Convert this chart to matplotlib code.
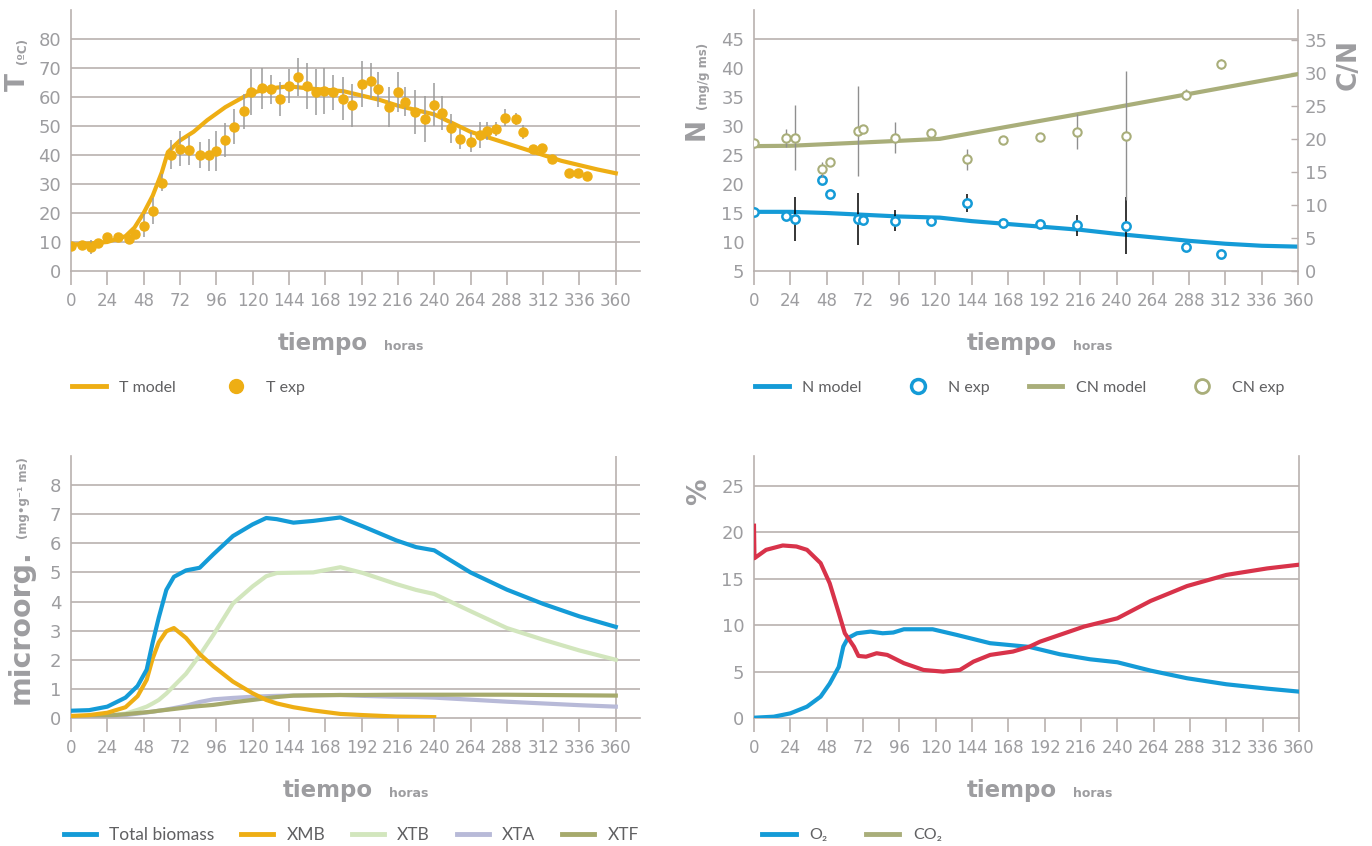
import matplotlib.pyplot as plt
from matplotlib.lines import Line2D

plt.rcParams['font.family'] = ['DejaVu Sans']

# --- temperatura ---
t_model = [0, 12, 24, 36, 42, 48, 54, 60, 64, 72, 81, 90, 102, 114, 120, 132, 144, 156, 168,
           180, 192, 204, 216, 228, 240, 252, 264, 276, 288, 300, 312, 324, 336, 348, 360]
T_model = [9, 9.5, 10, 12, 15, 20, 26, 34, 41, 45, 48, 52, 56.5, 60, 61.5, 63, 63.7, 63, 62.5,
           62, 60.5, 59, 57, 55.5, 54, 51, 48, 46, 44, 42, 40, 38, 36.5, 35, 33.7]

t_exp = [0, 7, 13, 18, 24, 31, 38, 42, 48, 54, 60, 66, 72, 78, 85, 91, 96, 102, 108, 114,
         119, 126, 132, 138, 144, 150, 156, 162, 167, 173, 180, 186, 192, 198, 203, 210, 216,
         221, 227, 234, 240, 245, 251, 257, 264, 270, 275, 281, 287, 294, 299, 305, 311, 318,
         329, 335, 341]
T_exp = [8.6, 9.0, 8.2, 9.5, 11.6, 11.6, 11.1, 12.6, 15.6, 20.6, 30.5, 40.1, 42.2, 41.7, 39.9,
         39.9, 41.4, 45.2, 49.7, 55.1, 61.7, 63.0, 62.6, 59.3, 63.8, 66.8, 63.8, 61.8, 62.1,
         61.6, 59.4, 57.1, 64.5, 65.6, 62.6, 56.6, 61.7, 58.4, 54.9, 52.4, 57.4, 54.5, 49.3,
         45.4, 44.4, 46.9, 48.3, 49.0, 52.9, 52.4, 48.0, 42.1, 42.3, 38.6, 33.8, 33.8, 32.9]
T_err = [0, 0, 2.5, 0.5, 1.0, 0.5, 0.5, 1.0, 4, 4.5, 3, 5, 6, 5, 4.5, 5.5, 7, 6, 6, 6,
         8, 7, 5, 6, 6, 6.5, 8, 8, 8, 6, 7.5, 7.5, 8, 6, 6, 7, 7, 5, 7.5, 8,
         7.5, 6, 5, 3.5, 3.5, 4.5, 3, 2.5, 3, 2, 2.5, 1.5, 1, 0.5, 1.5, 0, 0]

# --- nitrógeno y C/N ---
t_N_model = [0, 24, 48, 72, 96, 123, 144, 168, 192, 216, 240, 264, 288, 312, 336, 360]
N_model = [15.2, 15.2, 15.0, 14.7, 14.4, 14.2, 13.6, 13.1, 12.6, 12.1, 11.4, 10.8, 10.2, 9.7, 9.35, 9.2]
t_CN_model = [0, 24, 48, 72, 96, 123, 168, 216, 264, 312, 360]
CN_model = [18.9, 18.95, 19.2, 19.45, 19.7, 20.0, 21.85, 23.8, 25.8, 27.8, 29.8]

t_N_exp = [0, 21, 27, 45, 50, 69, 72, 93, 117, 141, 165, 189, 214, 246, 286, 309]
N_exp = [15.2, 14.4, 14.0, 20.7, 18.3, 14.0, 13.8, 13.7, 13.6, 16.7, 13.2, 13.05, 12.9, 12.8, 9.1, 7.9]
N_err = [0, 0.5, 3.8, 0.9, 0.4, 4.5, 0, 1.8, 0, 1.5, 0, 0, 1.8, 4.9, 0, 0]
CN_exp = [19.4, 20.1, 20.2, 15.4, 16.5, 21.2, 21.5, 20.2, 20.9, 16.9, 19.9, 20.3, 21.1, 20.5, 26.7, 31.3]
CN_err = [0, 1.4, 4.9, 1.1, 0, 6.8, 0.5, 2.4, 0.5, 1.6, 0, 0, 2.6, 9.8, 0.8, 0.8]

# --- microorganismos ---
t_bio = [0, 12, 24, 36, 44, 50, 54, 58, 63, 68, 76, 85, 94, 107, 120, 129, 136, 147, 160,
         178, 193, 215, 228, 240, 264, 288, 312, 336, 360]
total_bio = [0.25, 0.27, 0.39, 0.7, 1.1, 1.66, 2.6, 3.45, 4.4, 4.85, 5.07, 5.16, 5.62, 6.25,
             6.65, 6.87, 6.83, 6.71, 6.77, 6.89, 6.58, 6.1, 5.87, 5.76, 5.0, 4.41, 3.92, 3.49, 3.13]
xmb = [0.07, 0.1, 0.18, 0.37, 0.75, 1.31, 2.05, 2.6, 2.98, 3.09, 2.75, 2.2, 1.78, 1.25,
       0.85, 0.62, 0.5, 0.37, 0.26, 0.14, 0.1, 0.05, 0.04, 0.03, None, None, None, None, None]
xtb = [0.05, 0.06, 0.08, 0.15, 0.28, 0.39, 0.5, 0.62, 0.84, 1.1, 1.52, 2.15, 2.85, 3.93,
       4.52, 4.87, 4.98, 4.99, 5.0, 5.18, 4.98, 4.6, 4.4, 4.26, 3.67, 3.09, 2.69, 2.32, 2.0]
xta = [0.02, 0.03, 0.06, 0.1, 0.15, 0.19, 0.22, 0.25, 0.29, 0.34, 0.42, 0.55, 0.64, 0.69,
       0.73, 0.75, 0.76, 0.77, 0.78, 0.79, 0.76, 0.73, 0.72, 0.7, 0.63, 0.56, 0.5, 0.44, 0.39]
xtf = [0.02, 0.04, 0.08, 0.13, 0.17, 0.2, 0.22, 0.25, 0.28, 0.31, 0.36, 0.41, 0.45, 0.54,
       0.62, 0.68, 0.72, 0.77, 0.78, 0.79, 0.79, 0.8, 0.8, 0.8, 0.8, 0.8, 0.79, 0.78, 0.77]

# --- gases ---
t_o2 = [0, 13, 24, 35, 44, 50, 56, 59, 62, 68, 77, 85, 92, 99, 118, 134, 156, 182, 202, 222,
        240, 262, 286, 312, 339, 360]
o2 = [0.03, 0.14, 0.5, 1.22, 2.3, 3.7, 5.5, 7.7, 8.6, 9.12, 9.3, 9.12, 9.2, 9.55, 9.55, 8.94,
      8.05, 7.65, 6.86, 6.32, 6.0, 5.1, 4.28, 3.63, 3.16, 2.84]
t_co2 = [0, 0.3, 8, 19, 28, 35, 44, 50, 56, 60, 66, 69, 74, 81, 88, 99, 112, 125, 136, 145,
         156, 171, 182, 189, 218, 240, 262, 286, 312, 339, 360]
co2 = [20.7, 17.2, 18.1, 18.57, 18.46, 18.1, 16.67, 14.5, 11.3, 9.12, 7.68, 6.68, 6.6, 6.97,
       6.79, 5.9, 5.17, 4.99, 5.17, 6.07, 6.79, 7.15, 7.68, 8.22, 9.84, 10.73, 12.6, 14.2,
       15.4, 16.1, 16.5]

ORANGE = '#eeae14'
BLUE = '#149bd7'
OLIVE = '#a9ae7a'
RED = '#d8334a'
XTB_C = '#d2e6bd'
XTA_C = '#b8bad8'
XTF_C = '#a6aa6c'
GRID = '#b9b1af'
TXT = '#9d9da0'
LEG_TXT = '#606062'
COND = ['Liberation Sans Narrow', 'DejaVu Sans']

W, H = 1372, 846
fig = plt.figure(figsize=(W / 100, H / 100), dpi=100)


def rect(x0, y0, x1, y1):
    return [x0 / W, 1 - y1 / H, (x1 - x0) / W, (y1 - y0) / H]


def base_axes(r, xmax, ylim, yticks, grid_y, end_line):
    ax = fig.add_axes(r)
    ax.set_xlim(0, xmax)
    ax.set_ylim(*ylim)
    ax.set_xticks(range(0, 361, 24))
    ax.set_yticks(yticks)
    for s in ['top', 'right']:
        ax.spines[s].set_visible(False)
    for s in ['left', 'bottom']:
        ax.spines[s].set_color(GRID)
        ax.spines[s].set_linewidth(1.2)
    ax.tick_params(axis='x', length=10, width=1.2, color=GRID, pad=5,
                   labelsize=12, labelcolor=TXT)
    ax.tick_params(axis='y', length=0, pad=7, labelsize=13, labelcolor=TXT)
    for lab in ax.get_yticklabels():
        lab.set_family(COND)
    for g in grid_y:
        ax.axhline(g, color=GRID, lw=1.2, zorder=0)
    if end_line:
        ax.axvline(360, color=GRID, lw=1.2, zorder=0)
    return ax


def axis_title(xr, yb):
    fig.text(xr / W, 1 - yb / H, 'tiempo', ha='right', va='baseline',
             fontsize=16.5, fontweight='bold', color=TXT)
    fig.text((xr + 16) / W, 1 - yb / H, 'horas', ha='left', va='baseline',
             fontsize=9, fontweight='bold', color=TXT)


def legend(handles, x, y, spacing, size=11.5, hl=2.1, pad=0.85):
    leg = fig.legend(handles=handles, loc='center left', bbox_to_anchor=(x / W, 1 - y / H),
                     ncol=len(handles), frameon=False, handlelength=hl, handletextpad=pad,
                     columnspacing=spacing, borderpad=0, borderaxespad=0,
                     prop={'family': ['Lato', 'DejaVu Sans'], 'size': size})
    for txt in leg.get_texts():
        txt.set_color(LEG_TXT)


# T vs tiempo
ax1 = base_axes(rect(71, 10, 640, 271), 376, (0, 90), range(0, 81, 10), range(10, 81, 10), True)
ax1.plot(t_model, T_model, color=ORANGE, lw=3, zorder=3)
ax1.errorbar(t_exp, T_exp, yerr=T_err, fmt='o', color=ORANGE, ms=6.5, ecolor='#9b9b9b',
             elinewidth=1.1, capsize=0, zorder=4)
fig.text(18 / W, 1 - 82 / H, 'T', rotation=90, ha='center', va='center',
         fontsize=19, fontweight='bold', color=TXT)
fig.text(23 / W, 1 - 51 / H, '(ºC)', rotation=90, ha='center', va='center',
         fontsize=8.5, fontweight='bold', color=TXT)
axis_title(368, 350)
legend([Line2D([], [], color=ORANGE, lw=3.5, label='T model'),
        Line2D([], [], ls='none', marker='o', ms=10, color=ORANGE, label='T exp')],
       72, 388, 2.7)

# N y C/N vs tiempo
ax2 = base_axes(rect(754, 10, 1298, 271), 360, (5, 50), range(5, 46, 5), [45], False)
ax2.plot(t_N_model, N_model, color=BLUE, lw=3, zorder=3)
ax2.errorbar(t_N_exp, N_exp, yerr=N_err, fmt='none', ecolor='black', elinewidth=1.1,
             capsize=0, zorder=4)
ax2.plot(t_N_exp, N_exp, ls='none', marker='o', ms=6, mfc='white', mec=BLUE, mew=1.8, zorder=5)
ax2b = ax2.twinx()
ax2b.set_ylim(0, 39.5)
ax2b.set_yticks(range(0, 36, 5))
for s in ['top', 'left', 'bottom']:
    ax2b.spines[s].set_visible(False)
ax2b.spines['right'].set_color(GRID)
ax2b.spines['right'].set_linewidth(1.2)
ax2b.tick_params(axis='y', direction='in', length=5, width=1, color=GRID, pad=5,
                 labelsize=13, labelcolor=TXT)
for lab in ax2b.get_yticklabels():
    lab.set_family(COND)
ax2b.plot(t_CN_model, CN_model, color=OLIVE, lw=3, zorder=3)
ax2b.errorbar(t_N_exp, CN_exp, yerr=CN_err, fmt='none', ecolor='#8f8f8f', elinewidth=1.0,
              capsize=0, zorder=4)
ax2b.plot(t_N_exp, CN_exp, ls='none', marker='o', ms=6, mfc='white', mec=OLIVE, mew=1.5, zorder=5)
fig.text(697 / W, 1 - 129 / H, 'N', rotation=90, ha='center', va='center',
         fontsize=19, fontweight='bold', color=TXT)
fig.text(703 / W, 1 - 76 / H, '(mg/g ms)', rotation=90, ha='center', va='center',
         fontsize=8.5, fontweight='bold', color=TXT)
fig.text(1349 / W, 1 - 64 / H, 'C/N', rotation=90, ha='center', va='center',
         fontsize=19, fontweight='bold', color=TXT)
axis_title(1057, 350)
legend([Line2D([], [], color=BLUE, lw=3.5, label='N model'),
        Line2D([], [], ls='none', marker='o', ms=10, mfc='white', mec=BLUE, mew=2.5, label='N exp'),
        Line2D([], [], color=OLIVE, lw=3.5, label='CN model'),
        Line2D([], [], ls='none', marker='o', ms=10, mfc='white', mec=OLIVE, mew=2, label='CN exp')],
       755, 388, 2.45)

# microorganismos vs tiempo
ax3 = base_axes(rect(71, 456, 640, 718), 376, (0, 9), range(0, 9), range(1, 9), True)
ax3.plot(t_bio, xtb, color=XTB_C, lw=3, zorder=2)
ax3.plot(t_bio, xta, color=XTA_C, lw=3, zorder=2)
ax3.plot(t_bio, xtf, color=XTF_C, lw=3, zorder=2)
ax3.plot(t_bio, xmb, color=ORANGE, lw=3, zorder=3)
ax3.plot(t_bio, total_bio, color=BLUE, lw=3, zorder=4)
fig.text(21 / W, 1 - 627 / H, 'microorg.', rotation=90, ha='center', va='center',
         fontsize=20.5, fontweight='bold', color=TXT)
fig.text(24 / W, 1 - 498 / H, '(mg•g⁻¹ ms)', rotation=90, ha='center', va='center',
         fontsize=8.5, fontweight='bold', color=TXT)
axis_title(373, 797)
legend([Line2D([], [], color=BLUE, lw=3.5, label='Total biomass'),
        Line2D([], [], color=ORANGE, lw=3.5, label='XMB'),
        Line2D([], [], color=XTB_C, lw=3.5, label='XTB'),
        Line2D([], [], color=XTA_C, lw=3.5, label='XTA'),
        Line2D([], [], color=XTF_C, lw=3.5, label='XTF')],
       64, 835, 1.55, size=12.5, hl=1.85, pad=0.75)

# gases vs tiempo
ax4 = base_axes(rect(754, 456, 1299, 718), 360, (0, 28.2), range(0, 26, 5), range(5, 26, 5), False)
ax4.spines['right'].set_visible(True)
ax4.spines['right'].set_color(GRID)
ax4.spines['right'].set_linewidth(1.2)
ax4.plot(t_o2, o2, color=BLUE, lw=3, zorder=3)
ax4.plot(t_co2, co2, color=RED, lw=3, zorder=3)
fig.text(699 / W, 1 - 492 / H, '%', rotation=90, ha='center', va='center',
         fontsize=19, fontweight='bold', color=TXT)
axis_title(1057, 797)
legend([Line2D([], [], color=BLUE, lw=3.5, label='O₂'),
        Line2D([], [], color=OLIVE, lw=3.5, label='CO₂')],
       762, 835, 2.4)

fig.savefig('out.png', dpi=100)
